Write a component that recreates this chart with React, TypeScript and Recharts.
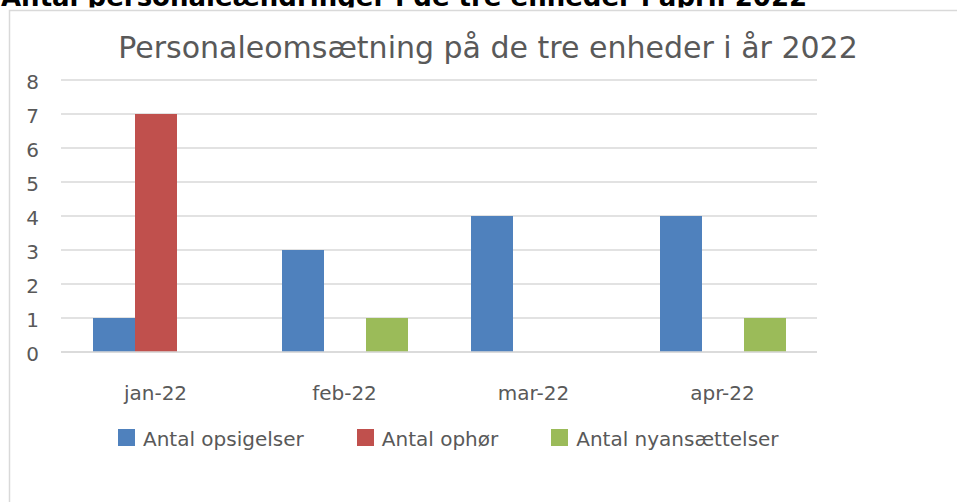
import React from 'react';
import { BarChart, Bar, XAxis, YAxis, CartesianGrid, Legend } from 'recharts';

const months = ['jan-22', 'feb-22', 'mar-22', 'apr-22'];
const opsigelser = [1, 3, 4, 4];
const ophoer = [7, 0, 0, 0];
const nyansaettelser = [0, 1, 0, 1];
const yTicks = [0, 1, 2, 3, 4, 5, 6, 7, 8];

const seriesNames = ['Antal opsigelser', 'Antal ophør', 'Antal nyansættelser'];
const seriesColors = ['#4f81bd', '#c0504d', '#9bbb59'];

const headingText = 'Antal personaleændringer i de tre enheder i april 2022';
const chartTitle = 'Personaleomsætning på de tre enheder i år 2022';

const data = months.map((m, i) => ({
  month: m,
  s0: opsigelser[i],
  s1: ophoer[i],
  s2: nyansaettelser[i],
}));

const FONT = '"DejaVu Sans", sans-serif';
const TEXT = '#595959';

const LegendContent = (props: any) => {
  const payload = [...(props.payload || [])].sort(
    (a: any, b: any) => seriesNames.indexOf(a.value) - seriesNames.indexOf(b.value)
  );
  return (
    <div style={{ display: 'flex', alignItems: 'center', paddingLeft: 118, fontFamily: FONT }}>
      {payload.map((p: any, i: number) => (
        <div key={i} style={{ display: 'flex', alignItems: 'center', marginRight: 53 }}>
          <span style={{ display: 'inline-block', width: 17, height: 17, background: p.color, marginRight: 8 }} />
          <span style={{ fontSize: 20, lineHeight: '17px', color: TEXT, position: 'relative', top: 1.5, whiteSpace: 'nowrap' }}>{p.value}</span>
        </div>
      ))}
    </div>
  );
};

export default function App() {
  return (
    <div style={{ position: 'absolute', left: 0, top: 0, width: 957, height: 502, overflow: 'hidden', background: '#fff' }}>
      <svg width={957} height={502} style={{ position: 'absolute', left: 0, top: 0 }}>
        <text x={1} y={6} fontFamily={FONT} fontWeight="bold" fontSize={26} fill="#000">{headingText}</text>
        <rect x={8} y={7.5} width={1000} height={600} fill="#fff" />
        <rect x={9.5} y={10.5} width={1000} height={600} fill="#fff" stroke="#d9d9d9" strokeWidth={1.5} />
        <text x={488} y={58} textAnchor="middle" fontFamily={FONT} fontSize={30} fill={TEXT}>{chartTitle}</text>
      </svg>
      <div style={{ position: 'absolute', left: 0, top: 0 }}>
        <BarChart
          width={957}
          height={502}
          data={data}
          margin={{ top: 80, right: 140, bottom: 110, left: 21 }}
          barCategoryGap={32}
          barGap={0}
          style={{ fontFamily: FONT }}
        >
          <CartesianGrid horizontal vertical={false} stroke="#d9d9d9" strokeWidth={1.3} />
          <XAxis
            dataKey="month"
            height={40}
            axisLine={{ stroke: '#d9d9d9', strokeWidth: 1.3 }}
            tickLine={false}
            tickSize={0}
            tickMargin={34}
            tick={{ fill: TEXT, fontSize: 20, fontFamily: FONT }}
          />
          <YAxis
            width={40}
            domain={[0, 8]}
            ticks={yTicks}
            interval={0}
            axisLine={false}
            tickLine={false}
            tickSize={0}
            tickMargin={22}
            tick={{ fill: TEXT, fontSize: 20, fontFamily: FONT, dy: 2 }}
          />
          <Legend
            verticalAlign="middle"
            align="center"
            layout="horizontal"
            wrapperStyle={{ top: 429, left: 0, width: 957 }}
            content={<LegendContent />}
          />
          {seriesNames.map((name, i) => (
            <Bar key={name} dataKey={`s${i}`} name={name} fill={seriesColors[i]} isAnimationActive={false} />
          ))}
        </BarChart>
      </div>
    </div>
  );
}
